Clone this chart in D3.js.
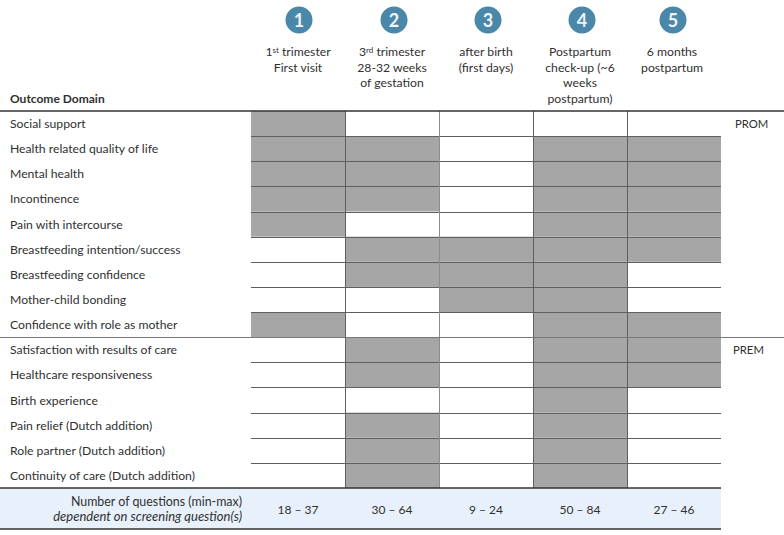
<!DOCTYPE html>
<html>
<head>
<meta charset="utf-8">
<script src="https://cdn.jsdelivr.net/npm/d3@7"></script>
<style>
  html, body { margin: 0; padding: 0; background: #fff; }
  text { font-family: Lato, "Open Sans", sans-serif; fill: #303030; }
</style>
</head>
<body>
<div id="chart"></div>
<script>
const stages = [1, 2, 3, 4, 5];
const stageLabels = [
  [['1', 'st', ' trimester'], ['First visit']],
  [['3', 'rd', ' trimester'], ['28-32 weeks'], ['of gestation']],
  [['after birth'], ['(first days)']],
  [['Postpartum'], ['check-up (~6'], ['weeks'], ['postpartum)']],
  [['6 months'], ['postpartum']]
];
const domains = [
  'Social support',
  'Health related quality of life',
  'Mental health',
  'Incontinence',
  'Pain with intercourse',
  'Breastfeeding intention/success',
  'Breastfeeding confidence',
  'Mother-child bonding',
  'Confidence with role as mother',
  'Satisfaction with results of care',
  'Healthcare responsiveness',
  'Birth experience',
  'Pain relief (Dutch addition)',
  'Role partner (Dutch addition)',
  'Continuity of care (Dutch addition)'
];
// which stages measure each domain, same order as domains
const measuredAt = [
  [1],
  [1, 2, 4, 5],
  [1, 2, 4, 5],
  [1, 2, 4, 5],
  [1, 4, 5],
  [2, 3, 4, 5],
  [2, 3, 4],
  [3, 4],
  [1, 4, 5],
  [2, 4, 5],
  [2, 4, 5],
  [4],
  [2, 4],
  [2, 4],
  [2, 4]
];
const questionCounts = ['18 – 37', '30 – 64', '9 – 24', '50 – 84', '27 – 46'];
const groupLabels = ['PROM', 'PREM'];
const groupStartRows = ['Social support', 'Satisfaction with results of care'];

const width = 784, height = 535;
const svg = d3.select('#chart').append('svg')
  .attr('width', width)
  .attr('height', height)
  .style('display', 'block');

const x = d3.scaleBand().domain(stages).range([251, 721]);
const y = d3.scaleBand().domain(domains).range([111, 488]);
// header row drifts a little from the table columns in the original
const headerX = d3.scaleOrdinal().domain(stages).range([298, 392, 486, 580, 672]);
const badgeX = d3.scaleOrdinal().domain(stages).range([299, 394, 488, 582, 673]);
const groupX = d3.scaleOrdinal().domain(groupLabels).range([735, 733]);

const grey = '#a6a6a6', rule = '#5f5f5f';

// summary band
svg.append('rect')
  .attr('x', 0).attr('y', y.range()[1])
  .attr('width', x.range()[1]).attr('height', 41)
  .attr('fill', '#e8f0fb');

// filled cells
const cells = measuredAt.flatMap((s, i) => s.map(stage => ({ domain: domains[i], stage })));
svg.selectAll('.cell')
  .data(cells)
  .enter().append('rect')
  .attr('class', 'cell')
  .attr('x', d => x(d.stage))
  .attr('y', d => y(d.domain))
  .attr('width', x.bandwidth())
  .attr('height', y.bandwidth())
  .attr('fill', grey);

// row rules
svg.selectAll('.row-rule')
  .data(domains.slice(1))
  .enter().append('line')
  .attr('class', 'row-rule')
  .attr('x1', x.range()[0]).attr('x2', x.range()[1])
  .attr('y1', d => Math.round(y(d)) + 0.5)
  .attr('y2', d => Math.round(y(d)) + 0.5)
  .attr('stroke', rule)
  .attr('stroke-width', 1);

// column rules
svg.selectAll('.col-rule')
  .data(stages.slice(1))
  .enter().append('line')
  .attr('class', 'col-rule')
  .attr('x1', d => Math.round(x(d)) + 0.5)
  .attr('x2', d => Math.round(x(d)) + 0.5)
  .attr('y1', y.range()[0]).attr('y2', y.range()[1])
  .attr('stroke', d => d === 3 ? '#8c8c8c' : rule)
  .attr('stroke-width', 1);

// section and frame rules
const ruleY = y(groupStartRows[1]);
svg.append('line').attr('x1', 0).attr('x2', width)
  .attr('y1', Math.round(ruleY) + 0.5).attr('y2', Math.round(ruleY) + 0.5)
  .attr('stroke', '#777').attr('stroke-width', 1);
svg.append('line').attr('x1', 0).attr('x2', width)
  .attr('y1', 111).attr('y2', 111)
  .attr('stroke', '#333').attr('stroke-width', 1.5);
svg.append('line').attr('x1', 0).attr('x2', x.range()[1])
  .attr('y1', 488).attr('y2', 488)
  .attr('stroke', '#333').attr('stroke-width', 1.5);
svg.append('line').attr('x1', 0).attr('x2', x.range()[1])
  .attr('y1', 529).attr('y2', 529)
  .attr('stroke', '#333').attr('stroke-width', 1.5);

// row labels
svg.selectAll('.row-label')
  .data(domains)
  .enter().append('text')
  .attr('class', 'row-label')
  .attr('x', 10)
  .attr('y', d => y(d) + y.bandwidth() / 2 + 4.5)
  .attr('font-size', 12.2)
  .text(d => d);

svg.append('text')
  .attr('x', 10).attr('y', 103)
  .attr('font-size', 12)
  .attr('font-weight', 700)
  .text('Outcome Domain');

// numbered badges
const badges = svg.selectAll('.badge')
  .data(stages)
  .enter().append('g')
  .attr('class', 'badge')
  .attr('transform', d => `translate(${badgeX(d)},20)`);
badges.append('circle')
  .attr('r', 13.5)
  .attr('fill', '#4a87a8');
badges.append('text')
  .attr('y', 6.5)
  .attr('text-anchor', 'middle')
  .attr('font-size', 18)
  .attr('font-weight', 700)
  .style('fill', '#eef4f7')
  .text(d => d);

// stage headings
stages.forEach((s, i) => {
  stageLabels[i].forEach((parts, j) => {
    const t = svg.append('text')
      .attr('x', headerX(s))
      .attr('y', 56 + j * 15.5)
      .attr('text-anchor', 'middle')
      .attr('font-size', 12.2);
    if (parts.length === 1) {
      t.text(parts[0]);
    } else {
      t.append('tspan').text(parts[0]);
      t.append('tspan').attr('dy', -3.5).attr('font-size', 8).text(parts[1]);
      t.append('tspan').attr('dy', 3.5).text(parts[2]);
    }
  });
});

// group labels
groupLabels.forEach((g, i) => {
  svg.append('text')
    .attr('x', groupX(g))
    .attr('y', y(groupStartRows[i]) + y.bandwidth() / 2 + 4.5)
    .attr('font-size', 11.3)
    .text(g);
});

// summary row
svg.append('text')
  .attr('x', 242).attr('y', 505.5)
  .attr('text-anchor', 'end')
  .attr('font-size', 12.4)
  .text('Number of questions (min-max)');
svg.append('text')
  .attr('x', 242).attr('y', 521)
  .attr('text-anchor', 'end')
  .attr('font-size', 13)
  .attr('font-style', 'italic')
  .text('dependent on screening question(s)');
svg.selectAll('.count')
  .data(stages)
  .enter().append('text')
  .attr('class', 'count')
  .attr('x', d => x(d) + x.bandwidth() / 2)
  .attr('y', 513.5)
  .attr('text-anchor', 'middle')
  .attr('font-size', 12)
  .text((d, i) => questionCounts[i]);
</script>
</body>
</html>
